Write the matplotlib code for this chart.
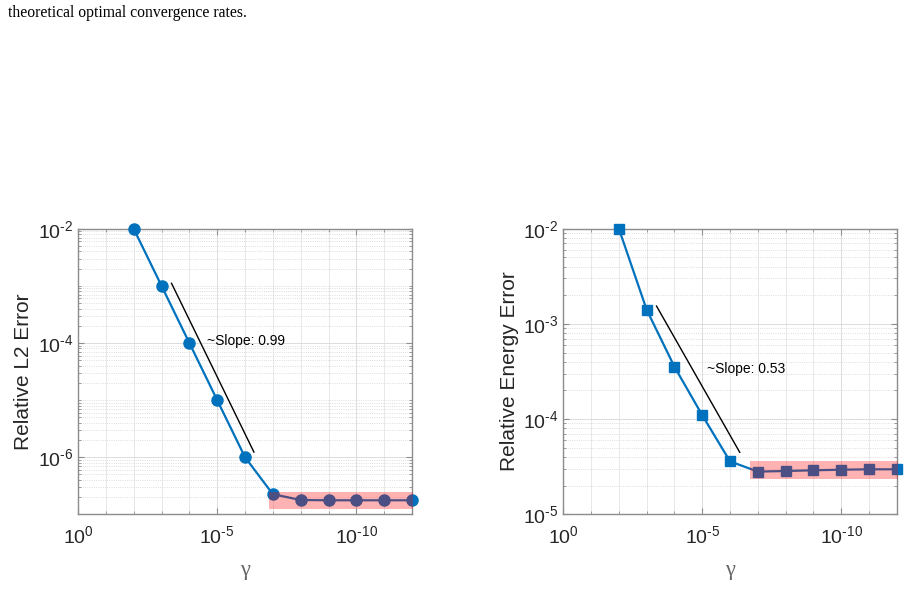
import matplotlib.pyplot as plt
import numpy as np
from matplotlib.ticker import LogLocator, FuncFormatter, NullFormatter

plt.rcParams['font.family'] = ['Liberation Sans', 'DejaVu Sans']
plt.rcParams['mathtext.default'] = 'regular'
plt.rcParams['axes.unicode_minus'] = False

# data
gamma = [1e-2, 1e-3, 1e-4, 1e-5, 1e-6, 1e-7, 1e-8, 1e-9, 1e-10, 1e-11, 1e-12]
l2_err = [1.0e-2, 1.0e-3, 1.0e-4, 1.0e-5, 1.0e-6, 2.25e-7, 1.78e-7, 1.76e-7, 1.76e-7, 1.76e-7, 1.76e-7]
energy_err = [1.0e-2, 1.41e-3, 3.55e-4, 1.1e-4, 3.6e-5, 2.81e-5, 2.85e-5, 2.9e-5, 2.94e-5, 2.97e-5, 2.97e-5]

l2_slope_x = [10 ** -3.36, 10 ** -6.32]
l2_slope_y = [10 ** -2.956, 10 ** -5.91]
l2_slope_txt = '~Slope: 0.99'
l2_txt_pos = (10 ** -4.62, 10 ** -3.97)
l2_box = (10 ** -6.86, 1e-13, 1.25e-7, 2.5e-7)

en_slope_x = [10 ** -3.355, 10 ** -6.35]
en_slope_y = [1.54e-3, 4.48e-5]
en_slope_txt = '~Slope: 0.53'
en_txt_pos = (10 ** -5.17, 10 ** -3.477)
en_box = (10 ** -6.72, 1e-13, 2.37e-5, 3.6e-5)

BLUE = '#0072BD'
caption = 'theoretical optimal convergence rates.'


def pow_label(v, pos):
    # MATLAB style: 10^{-2} with a short hyphen
    e = int(round(np.log10(v)))
    s = str(e).replace('-', '\u2010')
    return r'$\mathregular{10^{%s}}$' % s


fig = plt.figure(figsize=(9.08, 6.05), dpi=100)
fig.text(8 / 908, 1 - 13 / 605, caption, family='Liberation Serif', fontsize=11.3,
         va='center', ha='left', color='black')


def style_axes(ax, ylim, ymajor):
    ax.set_xscale('log')
    ax.set_yscale('log')
    ax.set_xlim(1e0, 1e-12)
    ax.set_ylim(*ylim)
    ax.set_xticks([1e0, 1e-5, 1e-10])
    ax.set_xticks([10.0 ** -k for k in range(13)], minor=True)
    ax.xaxis.set_major_formatter(FuncFormatter(pow_label))
    ax.xaxis.set_minor_formatter(NullFormatter())
    ax.set_yticks(ymajor)
    ax.yaxis.set_major_formatter(FuncFormatter(pow_label))
    ax.yaxis.set_minor_locator(LogLocator(base=10, subs=np.arange(1, 10), numticks=20))
    ax.yaxis.set_minor_formatter(NullFormatter())
    ax.grid(True, which='major', color='#dcdcdc', lw=0.7, ls='-')
    ax.grid(True, which='minor', axis='y', color='#d4d4d4', lw=0.6, ls=':')
    ax.grid(True, which='minor', axis='x', color='#e4e4e4', lw=0.6, ls='-')
    ax.set_axisbelow(True)
    ax.tick_params(which='both', direction='in', top=True, right=True,
                   colors='0.55', labelcolor='0.15', labelsize=14)
    ax.tick_params(which='major', length=4)
    ax.tick_params(which='minor', length=2)
    ax.tick_params(axis='x', pad=8)
    for s in ax.spines.values():
        s.set_color('0.55')
        s.set_linewidth(1.0)
    ax.set_xlabel('γ', family='Liberation Serif', fontsize=16, color='0.4', labelpad=10)


# left: L2 error
ax1 = fig.add_axes([78 / 908, 1 - 514.3 / 605, 334 / 908, 285.6 / 605])
style_axes(ax1, (1e-7, 1e-2), [1e-6, 1e-4, 1e-2])
ax1.plot(gamma, l2_err, '-o', color=BLUE, lw=1.6, ms=8, clip_on=False, zorder=3)
ax1.plot(l2_slope_x, l2_slope_y, color='black', lw=1.0, zorder=3)
ax1.text(*l2_txt_pos, l2_slope_txt, fontsize=10, va='center', ha='left', color='black')
ax1.fill_between(l2_box[:2], l2_box[2], l2_box[3], color='red', alpha=0.3, lw=0, zorder=4)
ax1.set_ylabel('Relative L2 Error', fontsize=15, color='0.15', labelpad=3)

# right: energy error
ax2 = fig.add_axes([563.3 / 908, 1 - 514.3 / 605, 333.4 / 908, 285.6 / 605])
style_axes(ax2, (1e-5, 1e-2), [1e-5, 1e-4, 1e-3, 1e-2])
ax2.plot(gamma, energy_err, '-s', color=BLUE, lw=1.6, ms=6.5, clip_on=False, zorder=3)
ax2.plot(en_slope_x, en_slope_y, color='black', lw=1.0, zorder=3)
ax2.text(*en_txt_pos, en_slope_txt, fontsize=10, va='center', ha='left', color='black')
ax2.fill_between(en_box[:2], en_box[2], en_box[3], color='red', alpha=0.3, lw=0, zorder=4)
ax2.set_ylabel('Relative Energy Error', fontsize=15, color='0.15', labelpad=3)

fig.savefig('out.png', dpi=100)
